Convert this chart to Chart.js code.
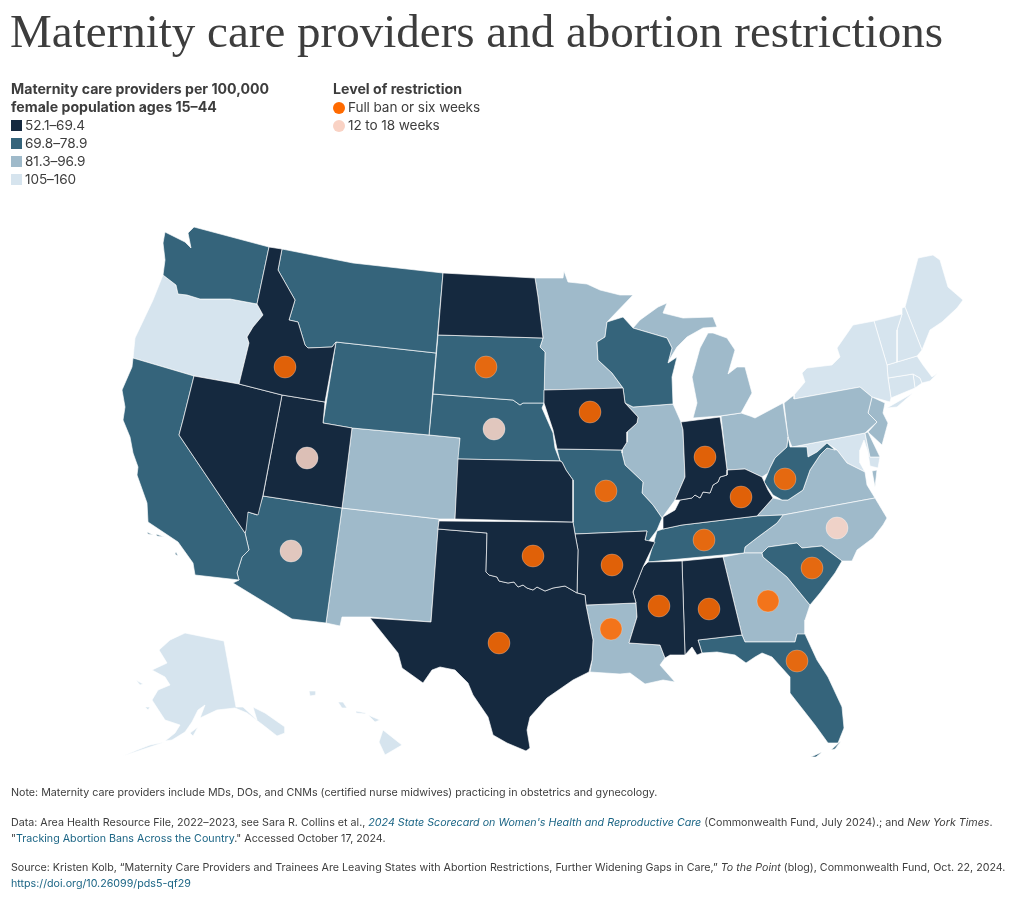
<!DOCTYPE html>
<html>
<head>
<meta charset="utf-8">
<script src="https://cdn.jsdelivr.net/npm/chart.js@4"></script>
<style>
  html, body { margin: 0; padding: 0; background: #fff; }
  #page { position: relative; width: 1020px; height: 902px; overflow: hidden; font-family: Inter, sans-serif; color: #3d3d3d; }
  #map { position: absolute; left: 0; top: 0; }
  h1 { position: absolute; left: 10px; top: 5px; margin: 0; font: 400 47px/52px "Liberation Serif", serif; white-space: nowrap; }
  .head { position: absolute; top: 80px; font-size: 14.15px; line-height: 18px; font-weight: 700; white-space: nowrap; }
  .row { position: absolute; font-size: 13.6px; line-height: 18px; white-space: nowrap; letter-spacing: -0.1px; }
  .swatch { position: absolute; left: 11px; width: 11px; height: 11px; }
  .dot { position: absolute; left: 333px; width: 12px; height: 12px; border-radius: 50%; }
  .foot { position: absolute; left: 11px; font-size: 10.7px; line-height: 15.5px; white-space: nowrap; }
  .foot a { color: #1b6585; text-decoration: none; }
</style>
</head>
<body>
<div id="page">
  <canvas id="map" width="1020" height="902"></canvas>
  <h1>Maternity care providers and abortion restrictions</h1>
  <div class="head" style="left:11px">Maternity care providers per 100,000<br>female population ages 15–44</div>
  <div class="head" style="left:333px">Level of restriction</div>
  <div id="legend"></div>
  <div class="foot" style="top:785px">Note: Maternity care providers include MDs, DOs, and CNMs (certified nurse midwives) practicing in obstetrics and gynecology.</div>
  <div class="foot" style="top:815px">Data: Area Health Resource File, 2022–2023, see Sara R. Collins et al., <a href="#"><i>2024 State Scorecard on Women's Health and Reproductive Care</i></a> (Commonwealth Fund, July 2024).; and <i>New York Times</i>.<br>"<a href="#">Tracking Abortion Bans Across the Country</a>." Accessed October 17, 2024.</div>
  <div class="foot" style="top:860px">Source: Kristen Kolb, “Maternity Care Providers and Trainees Are Leaving States with Abortion Restrictions, Further Widening Gaps in Care,” <i>To the Point</i> (blog), Commonwealth Fund, Oct. 22, 2024.<br><a href="#">https://doi.org/10.26099/pds5-qf29</a></div>
</div>
<script>
// legend bins, lowest rate first
var binLabels = ['52.1–69.4', '69.8–78.9', '81.3–96.9', '105–160'];
var binStates = [
    ['ID', 'NV', 'UT', 'ND', 'KS', 'OK', 'TX', 'IA', 'AR', 'MS', 'AL', 'IN', 'KY'],
    ['WA', 'MT', 'WY', 'CA', 'AZ', 'SD', 'NE', 'MO', 'WI', 'TN', 'WV', 'SC', 'FL'],
    ['CO', 'NM', 'MN', 'IL', 'MI', 'OH', 'LA', 'GA', 'NC', 'VA', 'PA', 'NJ', 'DE'],
    ['OR', 'AK', 'HI', 'NY', 'VT', 'NH', 'ME', 'MA', 'CT', 'RI', 'MD']
];
var binColors = ['#15293f', '#35647b', '#9fbaca', '#d6e4ee'];

var restrictionLabels = ['Full ban or six weeks', '12 to 18 weeks'];
var fullBanStates = ['ID', 'SD', 'IA', 'IN', 'KY', 'WV', 'MO', 'TN', 'OK', 'AR', 'SC', 'GA', 'AL', 'MS', 'LA', 'TX', 'FL'];
var weeksStates = ['NE', 'UT', 'AZ', 'NC'];

// where the restriction dot sits in each state, in map units
var dotSpots = {
    ID: [285, 367], SD: [486, 367], IA: [590, 412], IN: [705, 457], KY: [741, 497], WV: [785, 479],
    MO: [606, 491], TN: [704, 540], OK: [533, 556], AR: [612, 565], SC: [812, 568], GA: [768, 601],
    AL: [709, 609], MS: [659, 606], LA: [611, 629], TX: [499, 643], FL: [797, 661],
    NE: [494, 429], UT: [307, 458], AZ: [291, 551], NC: [837, 528]
};

// state outlines in map units, x,y pairs, some states have more than one part
var outlines = {
    WA: [[165,232,175,237,185,242,191,248,188,233,194,227,269,247,257,304,230,299,220,299,200,299,187,295,178,294,176,285,163,275,165,260,163,243]],
    OR: [[163,275,176,285,178,294,187,295,200,299,220,299,230,299,257,304,263,315,253,327,247,337,249,343,239,384,194,376,133,358,135,338,153,300]],
    CA: [[133,358,194,376,183,420,179,435,245,533,249,550,242,557,237,573,239,580,195,575,193,563,178,542,148,522,147,503,137,475,138,467,133,453,130,437,123,420,125,407,122,390,132,367],
         [147,532,153,535,148,534], [156,534,164,537,157,536], [176,552,178,556,175,554]],
    NV: [[194,376,239,384,282,395,263,495,258,515,248,512,246,530,245,533,179,435,183,420]],
    ID: [[269,247,282,249,278,270,295,300,289,320,298,322,305,345,308,348,332,347,336,342,325,402,282,395,239,384,249,343,247,337,253,327,263,315,257,304]],
    MT: [[282,249,353,263,443,273,436,353,336,342,332,347,308,348,305,345,298,322,289,320,295,300,278,270]],
    WY: [[336,342,436,353,429,435,352,428,323,423]],
    UT: [[282,395,325,402,323,423,352,428,342,508,263,496]],
    CO: [[352,428,429,435,460,438,455,519,439,519,342,508]],
    NM: [[342,508,439,519,431,622,370,617,342,617,340,626,326,623]],
    AZ: [[263,496,342,508,326,623,292,619,233,583,239,580,237,573,242,557,249,550,245,533,246,515,248,512,257,515]],
    ND: [[443,273,535,278,538,297,543,338,438,335]],
    SD: [[438,335,543,338,540,347,545,352,544,403,535,403,523,403,520,405,513,400,433,394]],
    NE: [[433,394,513,400,520,405,523,403,535,403,544,403,542,408,553,433,555,448,560,461,458,459,460,438,429,435]],
    KS: [[458,459,560,461,562,462,566,470,573,480,573,522,455,519]],
    MN: [[535,278,563,278,564,271,568,282,587,284,600,290,620,295,633,295,607,322,605,337,597,342,598,360,612,373,623,388,544,390,545,352,540,347,543,338,538,297]],
    IA: [[544,390,623,388,625,403,638,417,637,423,627,432,627,442,622,450,557,449,553,430,544,403]],
    WI: [[607,322,623,317,633,328,667,338,672,348,668,363,677,357,672,377,673,404,633,407,625,403,623,388,612,373,598,360,597,342,605,337]],
    IL: [[633,407,673,404,677,413,681,422,683,430,685,477,675,500,662,518,653,505,642,493,643,482,625,465,622,453,622,450,627,442,627,432,637,423,638,417,625,403]],
    IN: [[681,422,720,417,722,430,727,470,727,475,720,477,718,482,713,485,710,493,703,492,700,498,695,495,692,498,680,500,675,500,685,477,683,430]],
    MI: [[693,418,720,416,741,413,752,393,745,367,737,367,728,374,735,350,727,338,713,333,708,333,700,348,692,377,697,403],
         [633,328,640,320,658,307,667,303,663,313,683,318,713,317,717,327,703,328,687,337,677,347,668,362,672,348,667,338]],
    OH: [[721,416,741,413,750,416,755,418,783,403,788,437,787,447,775,458,770,468,768,473,762,477,745,469,727,470]],
    KY: [[727,470,745,469,762,477,768,490,773,498,757,516,682,525,663,529,663,517,675,510,680,500,692,498,695,495,700,498,703,492,710,493,713,485,718,482,720,477,727,475]],
    TN: [[783,515,777,523,758,537,745,547,744,553,648,562,657,531,663,529,682,525,757,516]],
    AR: [[575,534,647,531,645,540,655,542,643,567,633,592,636,603,586,605,585,595,577,593,578,550]],
    MO: [[557,449,622,450,622,453,625,465,643,482,642,493,653,505,662,518,657,530,648,542,645,540,647,531,575,534,573,522,573,480,566,470,562,462,560,461]],
    OK: [[439,521,573,522,575,534,578,550,577,593,565,586,553,588,545,591,537,587,533,590,527,588,523,585,518,587,514,582,508,583,499,581,497,577,489,575,486,572,487,533,438,529]],
    TX: [[438,529,487,533,486,572,489,575,497,577,499,581,508,583,514,582,518,587,523,585,527,588,533,590,537,587,545,591,553,588,565,586,577,593,585,595,586,605,593,640,592,660,589,672,573,680,547,698,530,717,527,730,530,748,526,751,507,743,493,735,488,717,473,695,468,683,455,670,440,667,432,670,423,683,402,668,398,653,370,618,431,622]],
    LA: [[586,605,636,603,637,617,629,643,660,645,665,658,660,665,675,682,663,680,645,684,630,673,620,674,590,672,592,660,593,640]],
    MS: [[648,562,682,561,685,655,670,655,665,658,660,645,629,643,637,617,636,603,633,592,643,567]],
    AL: [[682,561,723,557,742,635,698,640,702,653,697,655,692,647,685,655]],
    GA: [[723,557,744,553,762,553,763,557,787,577,810,605,805,620,805,638,797,634,795,642,745,642,742,635]],
    FL: [[698,640,742,635,745,642,795,642,797,634,805,634,817,660,828,677,842,707,844,728,838,743,828,743,815,725,797,702,790,693,790,677,772,657,762,653,755,657,746,663,735,655,717,652,702,653],
         [811,757,822,752,816,757], [831,750,841,741,835,749]],
    SC: [[762,553,768,547,797,543,802,548,822,546,842,561,835,573,820,593,810,605,787,577,763,557]],
    NC: [[783,515,875,498,887,518,883,525,873,538,857,550,852,561,842,561,822,546,802,548,797,543,768,547,762,553,744,553,745,547,758,537,777,523]],
    VA: [[757,516,783,515,875,498,867,485,865,472,847,463,837,450,827,448,820,455,810,470,803,490,788,500,782,500,773,498],
         [872,471,877,470,875,487]],
    WV: [[788,437,790,447,807,447,808,457,817,452,827,443,835,450,827,448,820,455,810,470,803,490,788,500,782,500,773,495,764,482,768,473,770,468,775,458,787,447]],
    PA: [[784,403,794,395,794,399,860,387,872,397,868,413,877,422,865,433,792,447,788,437]],
    MD: [[792,447,865,433,870,457,880,457,878,468,870,466,868,452,864,440,860,450,860,463,865,472,847,463,837,450,827,443,817,452,808,457,807,447]],
    DE: [[865,433,868,432,880,457,870,457]],
    NJ: [[872,397,885,403,883,413,888,423,882,445,868,432,877,422,868,413]],
    NY: [[794,399,794,395,805,382,802,373,807,368,832,365,840,357,837,348,853,325,874,321,887,365,888,378,891,398,890,402,872,397,860,387],
         [887,408,913,393,897,407]],
    VT: [[874,321,902,314,897,330,897,362,887,365]],
    NH: [[902,314,902,308,905,307,922,350,917,356,897,362,897,330]],
    ME: [[905,307,918,258,933,255,940,260,948,287,963,300,957,308,942,322,930,330,922,350]],
    MA: [[887,365,897,362,917,356,923,365,932,377,938,373,930,381,922,383,920,378,913,374,888,378]],
    CT: [[888,378,913,374,915,388,891,398]],
    RI: [[913,374,920,378,922,383,915,388]],
    AK: [[185,633,224,641,236,707,243,707,257,720,253,707,265,713,285,727,285,733,277,736,263,725,247,713,235,708,217,710,200,718,205,705,198,710,192,722,185,732,172,740,165,741,175,733,180,725,165,720,152,700,158,690,170,685,165,677,152,670,167,663,159,650,170,640],
         [190,733,198,727,193,736], [145,707,150,707,148,710], [136,680,143,684,140,685], [165,742,150,745,137,750,123,756,138,751,150,747]],
    HI: [[383,730,402,745,385,755,379,742], [368,715,380,720,375,722], [338,702,343,702,347,708,342,708], [309,691,316,691,316,695,310,696], [356,711,366,713,366,714,356,713]]
};

function toPoints(flat) {
    var pts = [];
    for (var i = 0; i < flat.length; i += 2) {
        pts.push({ x: flat[i], y: flat[i + 1] });
    }
    pts.push({ x: flat[0], y: flat[1] });
    return pts;
}

var datasets = [];

binStates.forEach(function (states, bin) {
    states.forEach(function (st) {
        outlines[st].forEach(function (part, p) {
            datasets.push({
                label: st + (p ? ' ' + p : ''),
                data: toPoints(part),
                showLine: true,
                tension: 0,
                fill: 'shape',
                backgroundColor: binColors[bin],
                borderColor: 'rgba(255,255,255,0.65)',
                borderWidth: 1,
                borderJoinStyle: 'round',
                pointRadius: 0,
                order: 2
            });
        });
    });
});

function dotData(states) {
    return states.map(function (st) {
        return { x: dotSpots[st][0], y: dotSpots[st][1] };
    });
}

datasets.push({
    label: restrictionLabels[0],
    data: dotData(fullBanStates),
    pointRadius: 11,
    pointBackgroundColor: 'rgba(255,106,0,0.87)',
    pointBorderColor: 'rgba(255,255,255,0.25)',
    pointBorderWidth: 1,
    order: 0
});
datasets.push({
    label: restrictionLabels[1],
    data: dotData(weeksStates),
    pointRadius: 11,
    pointBackgroundColor: 'rgba(250,214,200,0.87)',
    pointBorderColor: 'rgba(255,255,255,0.35)',
    pointBorderWidth: 1,
    order: 0
});

new Chart(document.getElementById('map').getContext('2d'), {
    type: 'scatter',
    data: { datasets: datasets },
    options: {
        responsive: false,
        animation: false,
        devicePixelRatio: 1,
        events: [],
        layout: { padding: 0, autoPadding: false },
        plugins: { legend: { display: false }, tooltip: { enabled: false }, title: { display: false } },
        scales: {
            x: { type: 'linear', min: 0, max: 1020, display: false },
            y: { type: 'linear', min: 0, max: 902, reverse: true, display: false }
        }
    }
});

// html legend from the same arrays
var legend = document.getElementById('legend');
var html = '';
binLabels.forEach(function (label, i) {
    var y = 116 + i * 18;
    html += '<span class="swatch" style="top:' + (y + 4) + 'px;background:' + binColors[i] + '"></span>';
    html += '<div class="row" style="left:25px;top:' + y + 'px">' + label + '</div>';
});
var dotColors = ['#ff6a00', '#f9d2c4'];
restrictionLabels.forEach(function (label, i) {
    var y = 98 + i * 18;
    html += '<span class="dot" style="top:' + (y + 4) + 'px;background:' + dotColors[i] + '"></span>';
    html += '<div class="row" style="left:348px;top:' + y + 'px">' + label + '</div>';
});
legend.innerHTML = html;
</script>
</body>
</html>
